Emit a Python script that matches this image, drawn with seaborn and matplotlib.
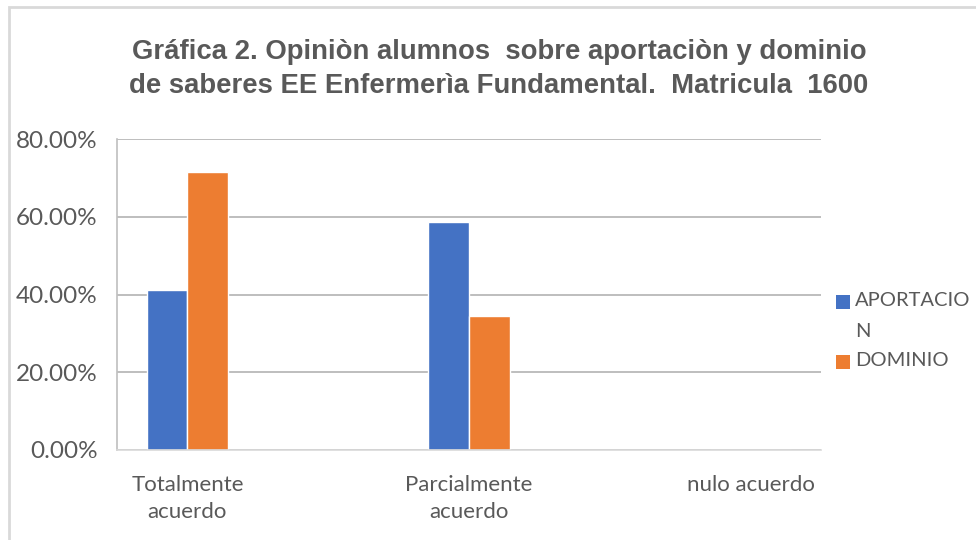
import matplotlib
matplotlib.use("Agg")
import matplotlib.pyplot as plt
import seaborn as sns
import pandas as pd
from matplotlib.patches import Rectangle
from matplotlib.ticker import FuncFormatter

categories = ["Totalmente\nacuerdo", "Parcialmente\nacuerdo", "nulo acuerdo"]
aportacion = [41.2, 58.6, 0.0]
dominio = [71.6, 34.5, 0.0]
series_names = ["APORTACION", "DOMINIO"]
legend_labels = ["APORTACIO\nN", "DOMINIO"]
yticks = [0, 20, 40, 60, 80]
title_lines = ["Gráfica 2. Opiniòn alumnos  sobre aportaciòn y dominio",
               "de saberes EE Enfermerìa Fundamental.  Matricula  1600"]

colors = ["#4472C4", "#ED7D31"]
text_color = "#595959"

df = pd.DataFrame({
    "cat": categories * 2,
    "serie": [series_names[0]] * 3 + [series_names[1]] * 3,
    "val": aportacion + dominio,
})

sns.set_style("white")
plt.rcParams["font.family"] = ["Lato", "DejaVu Sans"]

W, H = 976, 540
fig = plt.figure(figsize=(W / 100, H / 100), dpi=100)
ax = fig.add_axes([117 / W, 1 - 450 / H, (821 - 117) / W, (450 - 139) / H])

sns.barplot(data=df, x="cat", y="val", hue="serie", palette=colors,
            width=0.288, gap=0, dodge=True, ax=ax, legend=False,
            saturation=1, errorbar=None)

ax.set_xlim(-0.25, 2.25)
ax.set_ylim(0, 80)
ax.set_yticks(yticks)
ax.yaxis.set_major_formatter(FuncFormatter(lambda v, p: f"{v:.2f}%"))
ax.set_xlabel("")
ax.set_ylabel("")
ax.grid(axis="y", color="#b3b3b3", linewidth=1.2)
ax.set_axisbelow(True)
for s in ["top", "right"]:
    ax.spines[s].set_visible(False)
ax.spines["left"].set_color("#bfbfbf")
ax.spines["left"].set_linewidth(1.2)
ax.spines["bottom"].set_color("#d9d9d9")
ax.spines["bottom"].set_linewidth(1.2)
ax.tick_params(axis="y", length=0, pad=14, labelsize=17.5, labelcolor=text_color)
ax.tick_params(axis="x", length=0, pad=18, labelsize=16, labelcolor=text_color)
for lbl in ax.get_xticklabels():
    lbl.set_linespacing(1.45)
    lbl.set_color(text_color)

# Title
for i, line in enumerate(title_lines):
    fig.text(499 / W, 1 - (52 + 34 * i) / H, line, ha="center", va="center",
             fontsize=19.8, fontweight="bold", color=text_color,
             family=["Liberation Sans", "DejaVu Sans"])

# Legend (square aligned with the first line of each label, as in the reference)
legend_rows = [302, 362]
for color, label, yc in zip(colors, legend_labels, legend_rows):
    fig.patches.append(Rectangle((836 / W, 1 - (yc + 7) / H), 14 / W, 14 / H,
                                 transform=fig.transFigure, facecolor=color,
                                 edgecolor="none"))
    fig.text(855 / W, 1 - (yc - 10) / H, label, ha="left", va="top",
             fontsize=14.5, color=text_color, linespacing=2.0)

# Chart border
fig.patches.append(Rectangle((9 / W, -0.1), 1.2, 1 - 7 / H + 0.1,
                             transform=fig.transFigure, fill=False,
                             edgecolor="#d9d9d9", linewidth=2))

fig.savefig("out.png", dpi=100, facecolor="white")
